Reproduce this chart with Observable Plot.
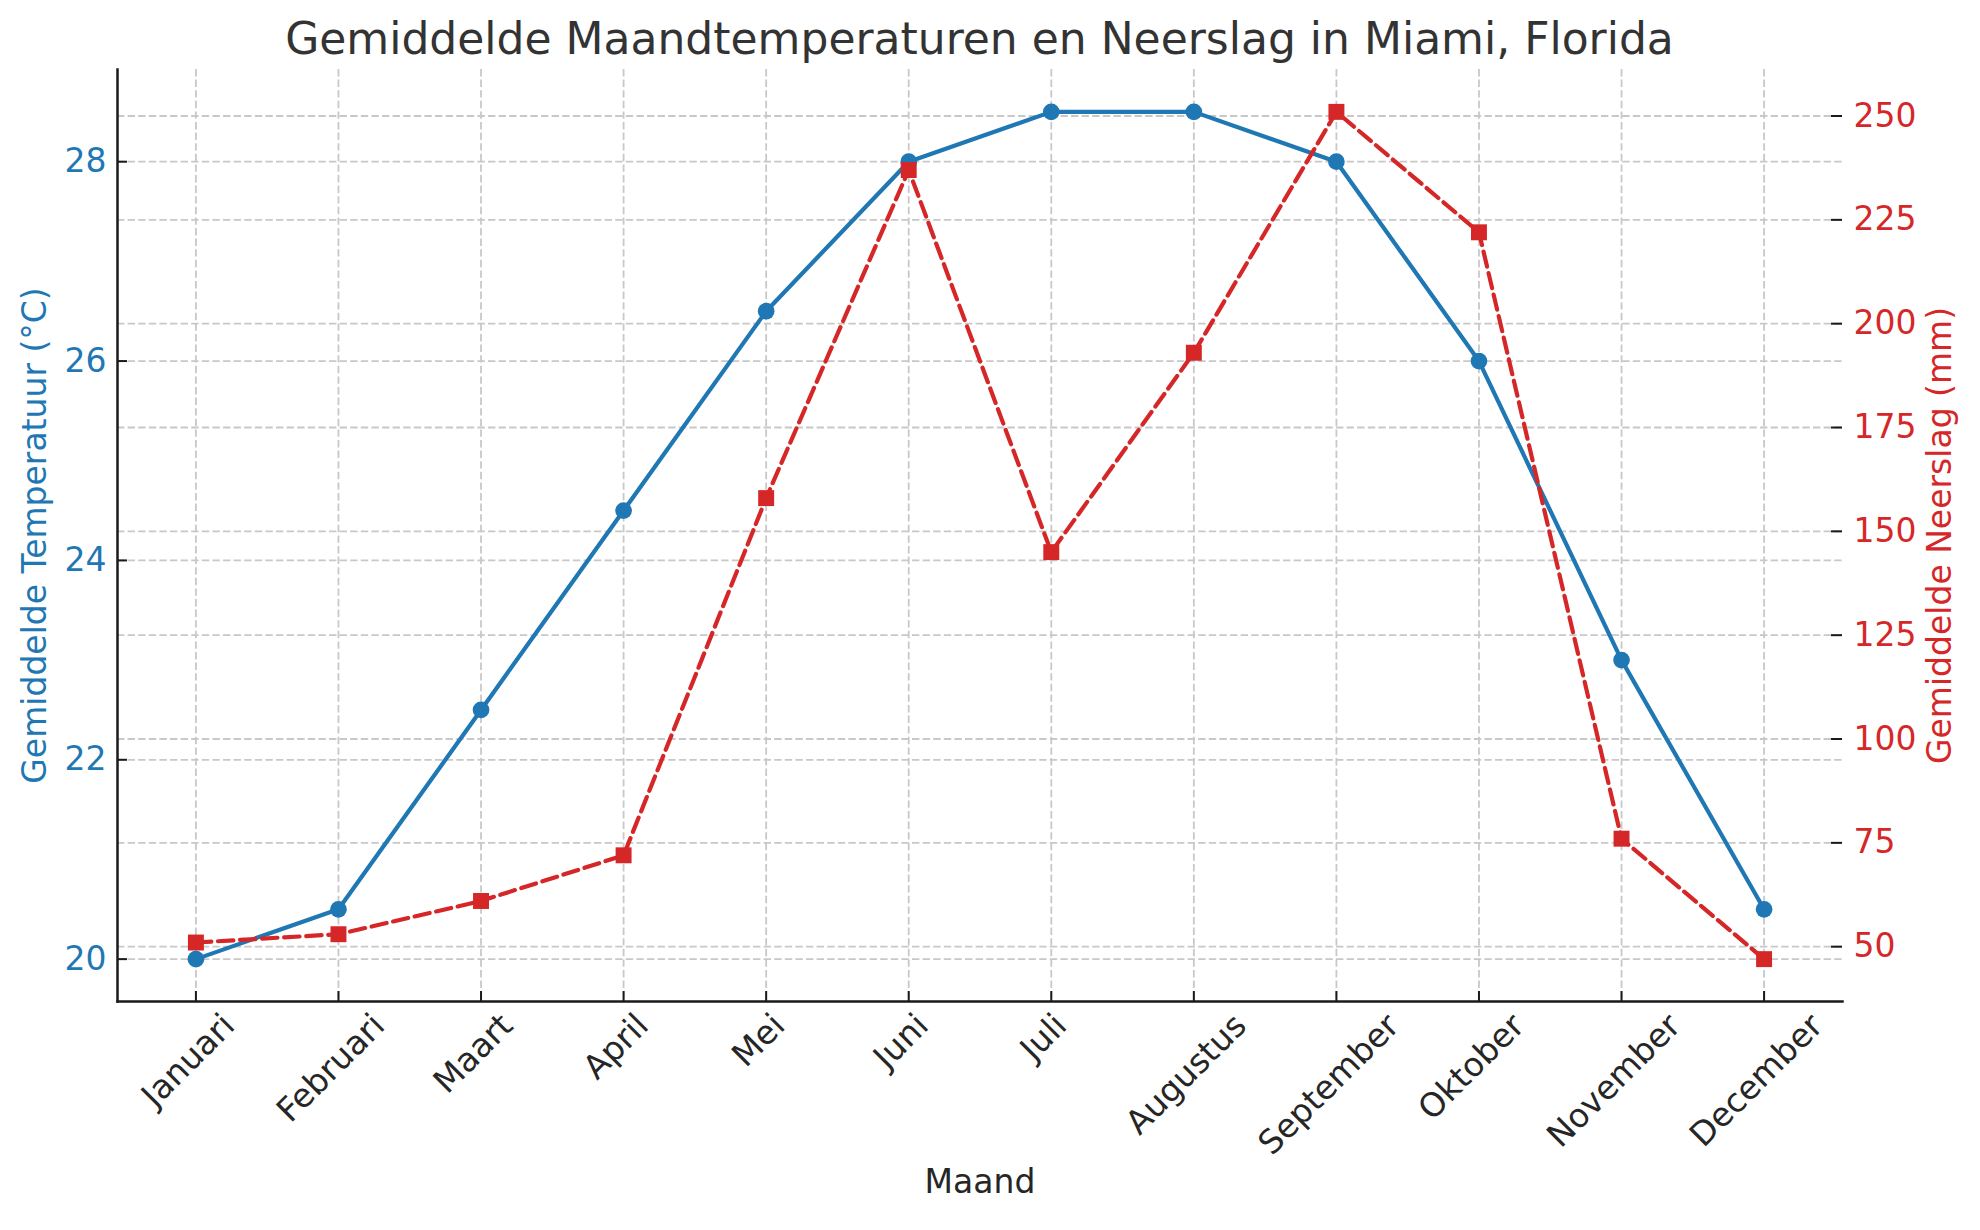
<!DOCTYPE html>
<html><head><meta charset="utf-8">
<script src="https://cdn.jsdelivr.net/npm/d3@7"></script>
<script src="https://cdn.jsdelivr.net/npm/@observablehq/plot@0.6"></script>
<style>
body{margin:0;background:#fff;font-family:"DejaVu Sans",sans-serif;}
#title{width:1959px;height:69px;box-sizing:border-box;padding-top:17px;line-height:44px;font-size:44px;color:#333333;text-align:center;white-space:nowrap;}
#chart svg{display:block;}
</style></head><body>
<div id="title">Gemiddelde Maandtemperaturen en Neerslag in Miami, Florida</div>
<div id="chart"></div>
<script>
const months = ["Januari","Februari","Maart","April","Mei","Juni","Juli","Augustus","September","Oktober","November","December"];
const temperature = [20.0, 20.5, 22.5, 24.5, 26.5, 28.0, 28.5, 28.5, 28.0, 26.0, 23.0, 20.5];
const precipitation = [51, 53, 61, 72, 158, 237, 145, 193, 251, 222, 76, 47];
const tempTicks = [20, 22, 24, 26, 28];
const precipTicks = [50, 75, 100, 125, 150, 175, 200, 225, 250];

const blue = "#1f77b4", red = "#d62728";
const W = 1980, H = 1161, mL = 117, mR = 138, mT = 0, mB = 229;
const plotW = W - mL - mR, plotH = H - mT - mB;

// matplotlib-like 5% margins
function padDomain(vals) {
  const lo = d3.min(vals), hi = d3.max(vals), m = (hi - lo) * 0.05;
  return [lo - m, hi + m];
}
const [tLo, tHi] = padDomain(temperature);
const [pLo, pHi] = padDomain(precipitation);
const pToT = p => tLo + (p - pLo) / (pHi - pLo) * (tHi - tLo);

const data = months.map((m, i) => ({month: m, temp: temperature[i], precip: precipitation[i]}));

const fs = 33;
const ctx = document.createElement("canvas").getContext("2d");
ctx.font = `${fs}px "DejaVu Sans"`;
const tw = s => ctx.measureText(s).width;

const gridStyle = {stroke: "#c8c8c8", strokeOpacity: 1, strokeWidth: 1.8, strokeDasharray: "7.4,3.2"};

const xLabels = months.map(m => Plot.text([m], {
  x: d => d, frameAnchor: "bottom", rotate: -45, textAnchor: "middle",
  dy: 19 + (tw(m) + 20) * Math.SQRT1_2 / 2, fontSize: fs, fill: "#262626"
}));

const chart = Plot.plot({
  width: W, height: H,
  marginLeft: mL, marginRight: mR, marginTop: mT, marginBottom: mB,
  style: {fontFamily: "DejaVu Sans", background: "white", overflow: "visible"},
  x: {type: "point", domain: months, padding: 0.55, round: false, axis: null},
  y: {domain: [tLo, tHi], axis: null},
  marks: [
    Plot.gridX(months, gridStyle),
    Plot.gridY(tempTicks, gridStyle),
    Plot.gridY(precipTicks.map(pToT), gridStyle),
    Plot.line(data, {x: "month", y: "temp", stroke: blue, strokeWidth: 4.2}),
    Plot.dot(data, {x: "month", y: "temp", r: 8.35, fill: blue}),
    Plot.line(data, {x: "month", y: d => pToT(d.precip), stroke: red, strokeWidth: 4.2, strokeDasharray: "15.4,6.7"}),
    Plot.dot(data, {x: "month", y: d => pToT(d.precip), symbol: "square", r: 9, fill: red}),
    // spines
    Plot.frame({anchor: "left", stroke: "#1a1a1a", strokeWidth: 2.5}),
    Plot.frame({anchor: "bottom", stroke: "#1a1a1a", strokeWidth: 2.5}),
    // inward ticks
    Plot.tickY(tempTicks, {y: d => d, stroke: "#1a1a1a", strokeWidth: 2, insetRight: plotW - 10}),
    Plot.tickY(precipTicks, {y: d => pToT(d), stroke: "#1a1a1a", strokeWidth: 2, insetLeft: plotW - 11}),
    Plot.tickX(months, {x: d => d, stroke: "#1a1a1a", strokeWidth: 2, insetTop: plotH - 10}),
    // tick labels
    Plot.text(tempTicks, {y: d => d, text: d => String(d), frameAnchor: "left", textAnchor: "end", dx: -11, fontSize: fs, fill: blue}),
    Plot.text(precipTicks, {y: d => pToT(d), text: d => String(d), frameAnchor: "right", textAnchor: "start", dx: 11, fontSize: fs, fill: red}),
    ...xLabels,
    // axis labels
    Plot.text(["Gemiddelde Temperatuur (°C)"], {frameAnchor: "left", textAnchor: "middle", rotate: -90, dx: -82, fontSize: fs, fill: blue}),
    Plot.text(["Gemiddelde Neerslag (mm)"], {frameAnchor: "right", textAnchor: "middle", rotate: -90, dx: 98, fontSize: fs, fill: red}),
    Plot.text(["Maand"], {frameAnchor: "bottom", dy: 191, fontSize: fs, fill: "#262626"})
  ]
});
document.getElementById("chart").appendChild(chart);
</script>
</body></html>
